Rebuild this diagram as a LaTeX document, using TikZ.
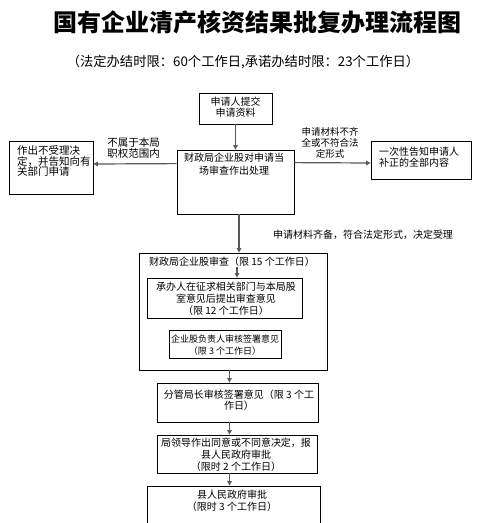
\documentclass[tikz,border=0pt]{standalone}
\usepackage{fontspec}
\setmainfont{Noto Sans CJK SC}
\usetikzlibrary{arrows.meta}
\begin{document}
\begin{tikzpicture}[x=1pt,y=-1pt,
  box/.style={draw=black,line width=0.8pt,inner sep=0pt},
  txt/.style={inner sep=0pt,font=\fontsize{10}{12}\selectfont,align=center},
  arr/.style={draw=black!65,line width=1.2pt,-{Triangle[length=4.5pt,width=4.5pt]}}]
\clip (0,0) rectangle (481,523);
\fill[white] (0,0) rectangle (481,523);
% title
\node[inner sep=0pt,font=\fontsize{24}{28}\selectfont\bfseries] (title) at (257.5,22) {国有企业清产核资结果批复办理流程图};
\node[inner sep=0pt,font=\fontsize{13.3}{16}\selectfont] (sub) at (243,62) {（法定办结时限：60个工作日,承诺办结时限：23个工作日）};
% boxes
\node[box,minimum width=73pt,minimum height=31pt] (apply) at (235.5,108.5) {};
\node[box,minimum width=84pt,minimum height=53pt] (left) at (51,167.5) {};
\node[box,minimum width=117pt,minimum height=64pt] (central) at (235.5,182) {};
\node[box,minimum width=100pt,minimum height=38pt] (right) at (421,160) {};
\node[box,minimum width=188pt,minimum height=117pt] (big) at (233,311.5) {};
\node[box,minimum width=155pt,minimum height=40pt] (in1) at (224.5,298) {};
\node[box,minimum width=112pt,minimum height=28pt] (in2) at (225,344) {};
\node[box,minimum width=161pt,minimum height=39pt] (fg) at (237.5,402.5) {};
\node[box,minimum width=160pt,minimum height=38pt] (lj) at (237,454) {};
\node[box,minimum width=173pt,minimum height=74pt] (xian) at (233.5,523) {};
% texts
\node[txt,font=\fontsize{10}{11}\selectfont] (tapply) at (235.5,107.5) {申请人提交\\申请资料};
\node[txt,anchor=west,align=left,font=\fontsize{10.5}{10.3}\selectfont] (tleft) at (17,161) {作出不受理决\\定，并告知向有\\关部门申请};
\node[txt,font=\fontsize{10}{13}\selectfont] (tcentral) at (234,164.5) {财政局企业股对申请当\\场审查作出处理};
\node[txt,anchor=west,align=left,font=\fontsize{10}{10.5}\selectfont] (tright) at (379,157) {一次性告知申请人\\补正的全部内容};
\node[txt,font=\fontsize{10.5}{11}\selectfont] (lleft) at (133.5,148.5) {不属于本局\\职权范围内};
\node[txt,font=\fontsize{9.5}{11}\selectfont] (lright) at (330,143) {申请材料不齐\\全或不符合法\\定形式};
\node[txt] (laccept) at (363,235) {申请材料齐备，符合法定形式，决定受理};
\node[txt] (tbig) at (232,262) {财政局企业股审查（限 15 个工作日）};
\node[txt] (tin1) at (226,299) {承办人在征求相关部门与本局股\\室意见后提出审查意见\\（限 12 个工作日）};
\node[txt,font=\fontsize{9}{12}\selectfont] (tin2) at (225,345) {企业股负责人审核签署意见\\（限 3 个工作日）};
\node[txt,font=\fontsize{10}{11}\selectfont] (tfg) at (239,400.5) {分管局长审核签署意见（限 3 个工\\作日）};
\node[txt] (tlj) at (236,455) {局领导作出同意或不同意决定，报\\县人民政府审批\\（限时 2 个工作日）};
\node[txt] (txian) at (232,501) {县人民政府审批\\（限时 3 个工作日）};
% connectors
\coordinate (c1) at (239,0);
\coordinate (c2) at (237,0);
\coordinate (c3) at (229.5,0);
\draw[arr] (apply.south) -- (central.north);
\draw[arr] ([yshift=-14pt]central.north west) -- ([yshift=3.5pt]left.east);
\draw[arr] ([yshift=-13pt]central.north east) -- ([yshift=-3pt]right.west);
\draw[arr] (central.south -| c1) -- (big.north -| c1);
\draw[arr] (tbig.south -| c2) -- (in1.north -| c2);
\draw[arr] (big.south -| c3) -- (fg.north -| c3);
\draw[arr] (fg.south -| c3) -- (lj.north -| c3);
\draw[arr] (lj.south -| c3) -- (xian.north -| c3);
\end{tikzpicture}
\end{document}
